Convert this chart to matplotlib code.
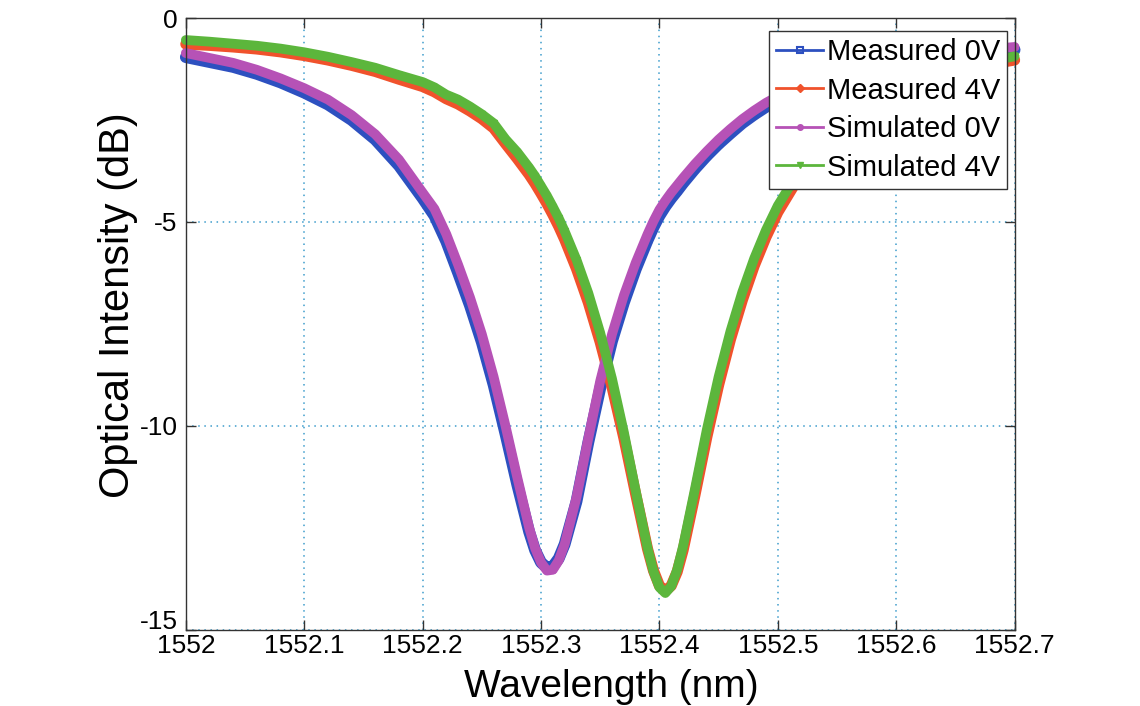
import matplotlib.pyplot as plt
import matplotlib.transforms as mtransforms
from matplotlib.lines import Line2D

# wavelength samples (nm), denser around the two resonance dips
wavelength = [1552.00, 1552.02, 1552.04, 1552.06, 1552.08, 1552.10, 1552.12,
              1552.14, 1552.16, 1552.18, 1552.20, 1552.21, 1552.22, 1552.23,
              1552.24, 1552.25, 1552.26, 1552.27, 1552.28, 1552.29, 1552.295,
              1552.30, 1552.305, 1552.31, 1552.315, 1552.32, 1552.33, 1552.34,
              1552.35, 1552.36, 1552.37, 1552.38, 1552.39, 1552.395, 1552.40,
              1552.405, 1552.41, 1552.415, 1552.42, 1552.43, 1552.44, 1552.45,
              1552.46, 1552.47, 1552.48, 1552.49, 1552.50, 1552.52, 1552.54,
              1552.56, 1552.58, 1552.60, 1552.62, 1552.64, 1552.66, 1552.68,
              1552.70]

# transmission in dB
measured_0v = [-0.96, -1.08, -1.20, -1.37, -1.58, -1.83, -2.12,
               -2.50, -2.98, -3.62, -4.42, -4.85, -5.48, -6.25,
               -7.05, -7.95, -9.00, -10.20, -11.45, -12.60, -13.05,
               -13.35, -13.48, -13.45, -13.25, -12.90, -11.85, -10.40,
               -9.08, -7.92, -6.98, -6.16, -5.45, -5.13, -4.85,
               -4.62, -4.42, -4.24, -4.05, -3.70, -3.38, -3.09,
               -2.83, -2.58, -2.37, -2.18, -2.01, -1.74, -1.53,
               -1.36, -1.23, -1.12, -1.03, -0.95, -0.89, -0.83,
               -0.78]
measured_4v = [-0.64, -0.67, -0.71, -0.76, -0.83, -0.92, -1.03,
               -1.16, -1.31, -1.50, -1.68, -1.81, -1.98, -2.11,
               -2.28, -2.47, -2.70, -3.08, -3.45, -3.84, -4.06,
               -4.30, -4.55, -4.82, -5.11, -5.43, -6.15, -6.98,
               -7.95, -9.05, -10.30, -11.68, -13.02, -13.55, -13.92,
               -14.05, -13.92, -13.58, -13.05, -11.70, -10.28, -9.00,
               -7.88, -6.92, -6.08, -5.37, -4.76, -3.80, -3.09,
               -2.54, -2.14, -1.84, -1.60, -1.40, -1.25, -1.13,
               -1.03]
simulated_0v = [-0.86, -0.98, -1.10, -1.27, -1.48, -1.72, -2.00,
                -2.38, -2.85, -3.47, -4.28, -4.68, -5.30, -6.05,
                -6.85, -7.75, -8.80, -10.00, -11.27, -12.50, -13.00,
                -13.35, -13.55, -13.53, -13.30, -12.90, -11.75, -10.30,
                -8.90, -7.75, -6.80, -6.00, -5.30, -4.98, -4.70,
                -4.48, -4.28, -4.10, -3.92, -3.58, -3.27, -2.98,
                -2.72, -2.48, -2.27, -2.08, -1.92, -1.65, -1.44,
                -1.28, -1.15, -1.04, -0.95, -0.87, -0.81, -0.76,
                -0.71]
simulated_4v = [-0.54, -0.58, -0.63, -0.68, -0.75, -0.84, -0.95,
                -1.08, -1.22, -1.40, -1.57, -1.70, -1.88, -2.00,
                -2.17, -2.36, -2.58, -2.97, -3.29, -3.67, -3.88,
                -4.12, -4.36, -4.63, -4.91, -5.23, -5.93, -6.75,
                -7.72, -8.85, -10.16, -11.60, -13.00, -13.57, -13.96,
                -14.10, -13.93, -13.53, -12.95, -11.55, -10.10, -8.80,
                -7.68, -6.72, -5.90, -5.20, -4.60, -3.66, -2.96,
                -2.43, -2.05, -1.75, -1.52, -1.32, -1.17, -1.05,
                -0.94]

labels = ['Measured 0V', 'Measured 4V', 'Simulated 0V', 'Simulated 4V']
xticks = [1552, 1552.1, 1552.2, 1552.3, 1552.4, 1552.5, 1552.6, 1552.7]
xticklabels = ['1552', '1552.1', '1552.2', '1552.3', '1552.4', '1552.5', '1552.6', '1552.7']
yticks = [0, -5, -10, -15]

blue = '#2d50c0'
red = '#f0522c'
purple = '#b652b6'
green = '#5cb63c'

plt.rcParams['font.family'] = ['Liberation Sans', 'DejaVu Sans']
plt.rcParams['axes.unicode_minus'] = False

fig = plt.figure(figsize=(11.4, 7.06), dpi=100)
ax = fig.add_axes([0.163, 0.108, 0.727, 0.8665])

# measured traces underneath, simulated traces on top
series = [
    (measured_0v, blue, 's', 8.5),
    (measured_4v, red, 'D', 8.0),
    (simulated_0v, purple, 'o', 7.0),
    (simulated_4v, green, 'v', 7.0),
]
for vals, col, mk, lw in series:
    ax.plot(wavelength, vals, color=col, lw=lw, marker=mk, markersize=4,
            solid_joinstyle='round', solid_capstyle='round', clip_on=False)

ax.set_xlim(1552, 1552.7)
ax.set_ylim(-15, 0)
ax.set_xticks(xticks)
ax.set_xticklabels(xticklabels)
ax.set_yticks(yticks)

ax.grid(True, linestyle=(0, (1, 3)), color='#3d9ccc', lw=1.1)
ax.tick_params(direction='in', length=7, width=1, top=True, right=True,
               color='#333333', labelsize=19)
ax.tick_params(axis='x', pad=3)
ax.tick_params(axis='y', pad=6)
for sp in ax.spines.values():
    sp.set_color('#333333')
    sp.set_linewidth(1.0)

# lift the bottom y label a little so it clears the first x label
low = ax.get_yticklabels()[-1]
low.set_transform(low.get_transform() +
                  mtransforms.ScaledTranslation(0, 10 / 100, fig.dpi_scale_trans))

ax.set_xlabel('Wavelength (nm)', fontsize=28, va='baseline')
ax.set_ylabel('Optical Intensity (dB)', fontsize=30)
ax.xaxis.set_label_coords(0.513, -0.1095)
ax.yaxis.set_label_coords(-0.058, 0.53)

# legend with thin lines and one marker each
handles = [
    Line2D([], [], color=blue, lw=2, marker='s', markersize=5,
           markerfacecolor='none', markeredgewidth=1.5),
    Line2D([], [], color=red, lw=2, marker='D', markersize=4),
    Line2D([], [], color=purple, lw=2, marker='o', markersize=4),
    Line2D([], [], color=green, lw=2, marker='v', markersize=5),
]
leg = ax.legend(handles, labels, loc='upper right', bbox_to_anchor=(0.991, 0.979),
                fontsize=21, frameon=True, fancybox=False, framealpha=1,
                edgecolor='#333333', handlelength=1.6, handletextpad=0.12,
                labelspacing=0.36, borderpad=0.25, borderaxespad=0)
leg.get_frame().set_linewidth(1.0)

fig.savefig('out.png', dpi=100)
